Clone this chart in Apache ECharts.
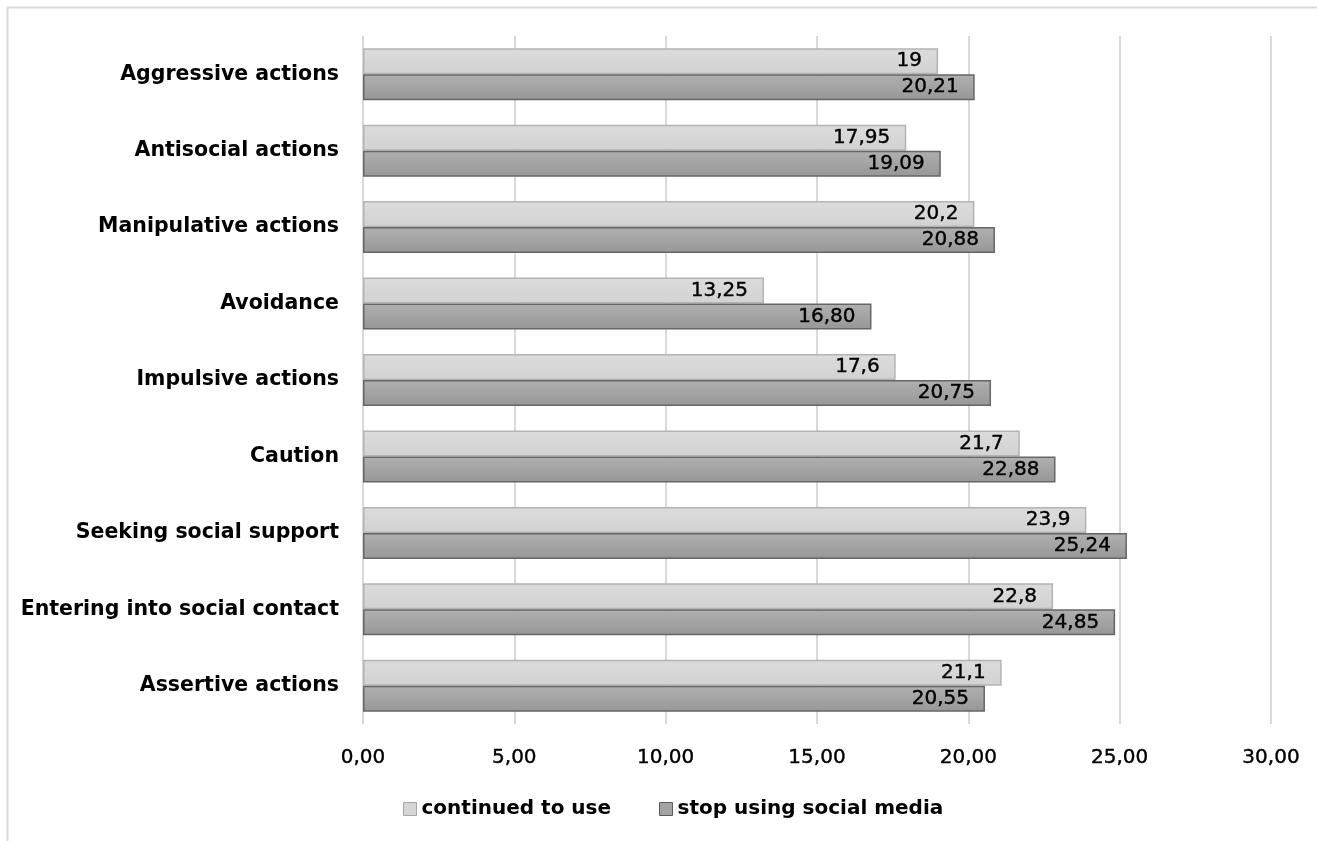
<!DOCTYPE html>
<html>
<head>
<meta charset="utf-8">
<script src="https://cdn.jsdelivr.net/npm/echarts@6/dist/echarts.min.js"></script>
<style>
  html, body { margin: 0; padding: 0; background: #fff; }
  #chart { width: 1317px; height: 841px; }
</style>
</head>
<body>
<div id="chart"></div>
<script>
// Coping strategies, by whether respondents kept using social media
const categories = [
  'Aggressive actions',
  'Antisocial actions',
  'Manipulative actions',
  'Avoidance',
  'Impulsive actions',
  'Caution',
  'Seeking social support',
  'Entering into social contact',
  'Assertive actions'
];
const continuedValues = [19, 17.95, 20.2, 13.25, 17.6, 21.7, 23.9, 22.8, 21.1];
const continuedLabels = ['19', '17,95', '20,2', '13,25', '17,6', '21,7', '23,9', '22,8', '21,1'];
const stoppedValues = [20.21, 19.09, 20.88, 16.80, 20.75, 22.88, 25.24, 24.85, 20.55];
const stoppedLabels = ['20,21', '19,09', '20,88', '16,80', '20,75', '22,88', '25,24', '24,85', '20,55'];
const seriesNames = ['continued to use', 'stop using social media'];

const FONT = '"DejaVu Sans", sans-serif';

const lightFill = new echarts.graphic.LinearGradient(0, 0, 0, 1, [
  { offset: 0, color: '#dcdcdc' },
  { offset: 1, color: '#d2d2d2' }
]);
const darkFill = new echarts.graphic.LinearGradient(0, 0, 0, 1, [
  { offset: 0, color: '#b0b0b0' },
  { offset: 1, color: '#979797' }
]);

const chart = echarts.init(document.getElementById('chart'), null, { renderer: 'canvas' });

// Regular weight with a thin outline, for a medium-looking stroke
const mediumText = { textBorderColor: '#000', textBorderWidth: 0.4 };

const labelStyle = (texts) => Object.assign({
  show: true,
  position: 'insideRight',
  distance: 16,
  color: '#000',
  fontFamily: FONT,
  fontSize: 20,
  fontWeight: 'normal',
  formatter: (p) => texts[p.dataIndex]
}, mediumText);

chart.setOption({
  animation: false,
  backgroundColor: '#fff',
  graphic: [{
    type: 'rect',
    shape: { x: 7.5, y: 7.5, width: 1400, height: 900 },
    style: { fill: 'none', stroke: '#d9d9d9', lineWidth: 2 },
    silent: true,
    z: -1
  }],
  grid: { left: 363, right: 46, top: 36, bottom: 117, containLabel: false },
  legend: {
    bottom: 17,
    left: 398,
    icon: 'rect',
    itemWidth: 13,
    itemHeight: 13,
    itemGap: 48,
    textStyle: { fontFamily: FONT, fontSize: 20, fontWeight: 'bold', color: '#000' },
    data: [
      { name: seriesNames[0], itemStyle: { color: '#d6d6d6', borderColor: '#a6a6a6', borderWidth: 1 } },
      { name: seriesNames[1], itemStyle: { color: '#a3a3a3', borderColor: '#595959', borderWidth: 1 } }
    ]
  },
  xAxis: {
    type: 'value',
    min: 0,
    max: 30,
    interval: 5,
    axisLine: { show: false },
    axisTick: { show: false },
    splitLine: { show: true, lineStyle: { color: '#d9d9d9', width: 2 } },
    axisLabel: Object.assign({
      margin: 24,
      color: '#000',
      fontFamily: FONT,
      fontSize: 20,
      fontWeight: 'normal',
      formatter: (v) => v.toFixed(2).replace('.', ',')
    }, mediumText)
  },
  yAxis: {
    type: 'category',
    data: categories,
    inverse: true,
    axisLine: { show: false },
    axisTick: { show: false },
    axisLabel: {
      margin: 24,
      color: '#000',
      fontFamily: FONT,
      fontSize: 20.5,
      fontWeight: 'bold',
      padding: [6, 0, 0, 0]
    }
  },
  series: [
    {
      name: seriesNames[0],
      type: 'bar',
      data: continuedValues,
      barWidth: 26,
      barGap: '0%',
      itemStyle: { color: lightFill, borderColor: '#b4b4b4', borderWidth: 1.5 },
      label: labelStyle(continuedLabels)
    },
    {
      name: seriesNames[1],
      type: 'bar',
      data: stoppedValues,
      barWidth: 26,
      itemStyle: { color: darkFill, borderColor: '#666666', borderWidth: 1.5 },
      label: labelStyle(stoppedLabels)
    }
  ]
});
</script>
</body>
</html>
